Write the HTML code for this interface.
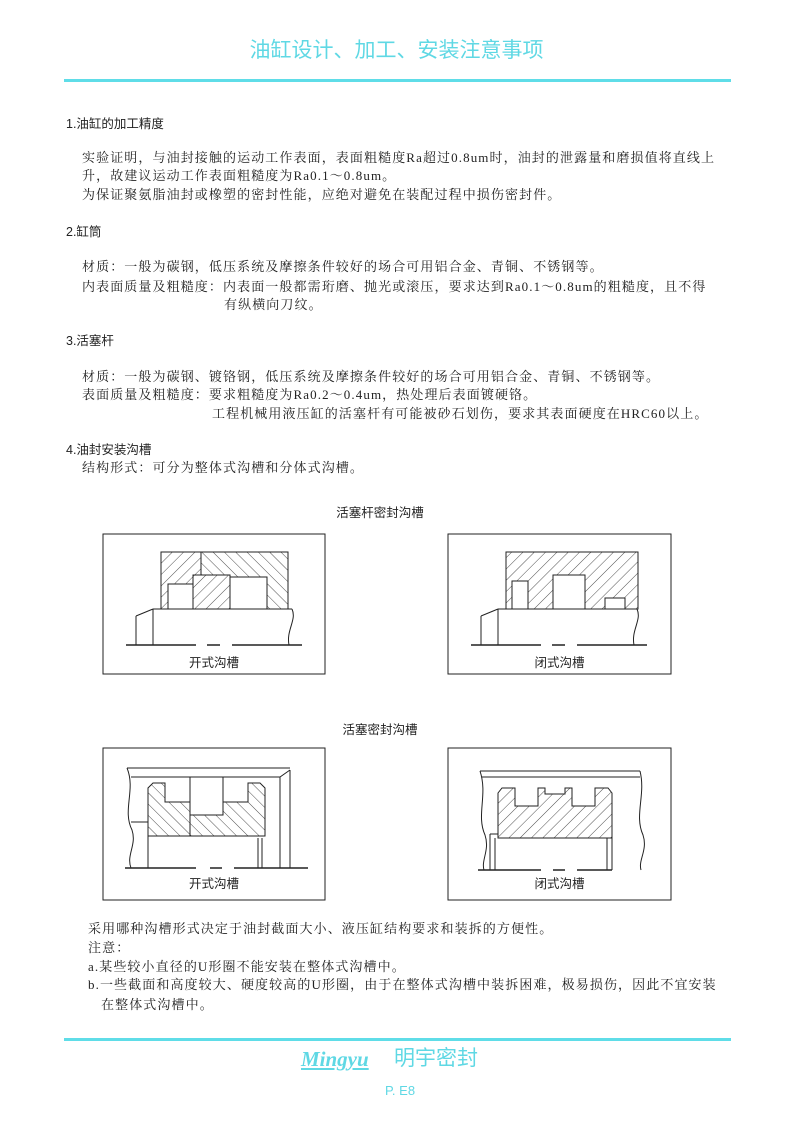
<!DOCTYPE html>
<html><head><meta charset="utf-8"><style>
body{margin:0;width:793px;height:1122px;background:#fff;position:relative;overflow:hidden;font-family:"Liberation Serif","Noto Serif CJK SC",serif;color:#222}
.t{position:absolute;white-space:nowrap;font-size:13px;line-height:16px;letter-spacing:1.1px}
.h{position:absolute;white-space:nowrap;font-family:"Liberation Sans","Noto Sans CJK SC",sans-serif;font-size:12.5px;line-height:16px}
.c{color:#5fd8e4}
</style></head><body>
<div class="h c" style="left:0;width:793px;text-align:center;top:37px;font-size:21px;line-height:28px">油缸设计、加工、安装注意事项</div>
<div style="position:absolute;left:64px;top:79px;width:667px;height:3px;background:#5fdde8"></div>

<div class="h" style="left:66px;top:116px">1.油缸的加工精度</div>
<div class="t" style="left:82px;top:150px">实验证明，与油封接触的运动工作表面，表面粗糙度Ra超过0.8um时，油封的泄露量和磨损值将直线上</div>
<div class="t" style="left:82px;top:168px">升，故建议运动工作表面粗糙度为Ra0.1～0.8um。</div>
<div class="t" style="left:82px;top:187px">为保证聚氨脂油封或橡塑的密封性能，应绝对避免在装配过程中损伤密封件。</div>

<div class="h" style="left:66px;top:224px">2.缸筒</div>
<div class="t" style="left:82px;top:259px">材质：一般为碳钢，低压系统及摩擦条件较好的场合可用铝合金、青铜、不锈钢等。</div>
<div class="t" style="left:82px;top:279px">内表面质量及粗糙度：内表面一般都需珩磨、抛光或滚压，要求达到Ra0.1～0.8um的粗糙度，且不得</div>
<div class="t" style="left:224px;top:297px">有纵横向刀纹。</div>

<div class="h" style="left:66px;top:333px">3.活塞杆</div>
<div class="t" style="left:82px;top:369px">材质：一般为碳钢、镀铬钢，低压系统及摩擦条件较好的场合可用铝合金、青铜、不锈钢等。</div>
<div class="t" style="left:82px;top:387px">表面质量及粗糙度：要求粗糙度为Ra0.2～0.4um，热处理后表面镀硬铬。</div>
<div class="t" style="left:212px;top:406px">工程机械用液压缸的活塞杆有可能被砂石划伤，要求其表面硬度在HRC60以上。</div>

<div class="h" style="left:66px;top:442px">4.油封安装沟槽</div>
<div class="t" style="left:82px;top:460px">结构形式：可分为整体式沟槽和分体式沟槽。</div>

<div class="h" style="left:0;width:760px;text-align:center;top:505px">活塞杆密封沟槽</div>
<div class="h" style="left:0;width:760px;text-align:center;top:722px">活塞密封沟槽</div>

<svg style="position:absolute;left:0;top:0" width="793" height="1122">
<defs>
<pattern id="ha" width="8" height="8" patternUnits="userSpaceOnUse" patternTransform="rotate(45)"><line x1="0" y1="0" x2="0" y2="8" stroke="#222" stroke-width="0.8"/></pattern>
<pattern id="hb" width="8" height="8" patternUnits="userSpaceOnUse" patternTransform="rotate(-45)"><line x1="0" y1="0" x2="0" y2="8" stroke="#222" stroke-width="0.8"/></pattern>
</defs>
<g fill="none" stroke="#222" stroke-width="1">
<!-- box1 -->
<rect x="103" y="534" width="222" height="140"/>
<rect x="161" y="552" width="127" height="57" fill="url(#hb)"/>
<polygon points="161,552 201,552 201,575 193,575 193,609 161,609" fill="#fff"/>
<polygon points="161,552 201,552 201,575 193,575 193,609 161,609" fill="url(#ha)"/>
<polygon points="193,575 230,575 230,609 193,609" fill="#fff"/>
<polygon points="193,575 230,575 230,609 193,609" fill="url(#ha)"/>
<rect x="168" y="584" width="25" height="25" fill="#fff"/>
<rect x="230" y="577" width="37" height="32" fill="#fff"/>
<path d="M153,609 L292,609 M136,616 L153,609 M136,616 V645 M153,609 V645 M292,609 C297,620 286,630 289,645"/>
<path d="M126,645 H196 M207,645 H220 M232,645 H302" stroke-width="1.5"/>
<!-- box2 -->
<rect x="448" y="534" width="223" height="140"/>
<rect x="506" y="552" width="132" height="57" fill="url(#ha)"/>
<rect x="512" y="581" width="16" height="28" fill="#fff"/>
<rect x="553" y="575" width="32" height="34" fill="#fff"/>
<rect x="605" y="598" width="20" height="11" fill="#fff"/>
<path d="M498,609 L637,609 M481,616 L498,609 M481,616 V645 M498,609 V645 M637,609 C642,620 631,630 634,645"/>
<path d="M471,645 H541 M552,645 H565 M577,645 H647" stroke-width="1.5"/>
<!-- box3 -->
<rect x="103" y="748" width="222" height="152"/>
<path d="M127,768 H290 M131,777 H280 L290,770 M280,777 V868 M290,770 V868 M127,768 C136,790 122,810 132,830 C137,845 126,855 131,868"/>
<polygon points="153,783 165,783 165,802 190,802 190,815 223,815 223,802 248,802 248,783 260,783 265,788 265,836 148,836 148,788" fill="url(#hb)"/>
<path d="M190,777 V836 M223,777 V815 M148,836 V868 M258,838 V868 M262,838 V868 M131,822 H148"/>
<path d="M125,868 H196 M210,868 H222 M234,868 H308" stroke-width="1.5"/>
<!-- box4 -->
<rect x="448" y="748" width="223" height="152"/>
<path d="M480,771 H640 M482,777 H640 M480,771 C488,795 476,815 485,835 C490,850 481,860 484,870 M640,771 C646,795 634,815 643,835 C648,850 638,860 641,870"/>
<polygon points="502,788 515,788 515,806 538,806 538,788 545,788 545,794 565,794 565,788 572,788 572,806 595,806 595,788 608,788 612,793 612,838 498,838 498,793" fill="url(#ha)"/>
<path d="M490,834 V870 M495,838 V870 M607,838 V870 M612,838 V870 M490,834 H498"/>
<path d="M478,870 H541 M553,870 H565 M577,870 H612" stroke-width="1.5"/>
</g>
</svg>
<div class="h" style="left:103px;width:222px;text-align:center;top:655px">开式沟槽</div>
<div class="h" style="left:448px;width:223px;text-align:center;top:655px">闭式沟槽</div>
<div class="h" style="left:103px;width:222px;text-align:center;top:876px">开式沟槽</div>
<div class="h" style="left:448px;width:223px;text-align:center;top:876px">闭式沟槽</div>

<div class="t" style="left:88px;top:921px">采用哪种沟槽形式决定于油封截面大小、液压缸结构要求和装拆的方便性。</div>
<div class="t" style="left:88px;top:940px">注意：</div>
<div class="t" style="left:88px;top:959px">a.某些较小直径的U形圈不能安装在整体式沟槽中。</div>
<div class="t" style="left:88px;top:977px">b.一些截面和高度较大、硬度较高的U形圈，由于在整体式沟槽中装拆困难，极易损伤，因此不宜安装</div>
<div class="t" style="left:101px;top:997px">在整体式沟槽中。</div>

<div style="position:absolute;left:64px;top:1038px;width:667px;height:3px;background:#5fdde8"></div>
<div class="c" style="position:absolute;left:301px;top:1044px;font-family:'Liberation Serif',serif;font-style:italic;font-weight:bold;font-size:21px;text-decoration:underline;line-height:30px">Mingyu</div>
<div class="h c" style="left:394px;top:1045px;font-size:21px;line-height:28px">明宇密封</div>
<div class="h c" style="left:0;width:800px;text-align:center;top:1083px;font-size:13px">P. E8</div>
</body></html>
